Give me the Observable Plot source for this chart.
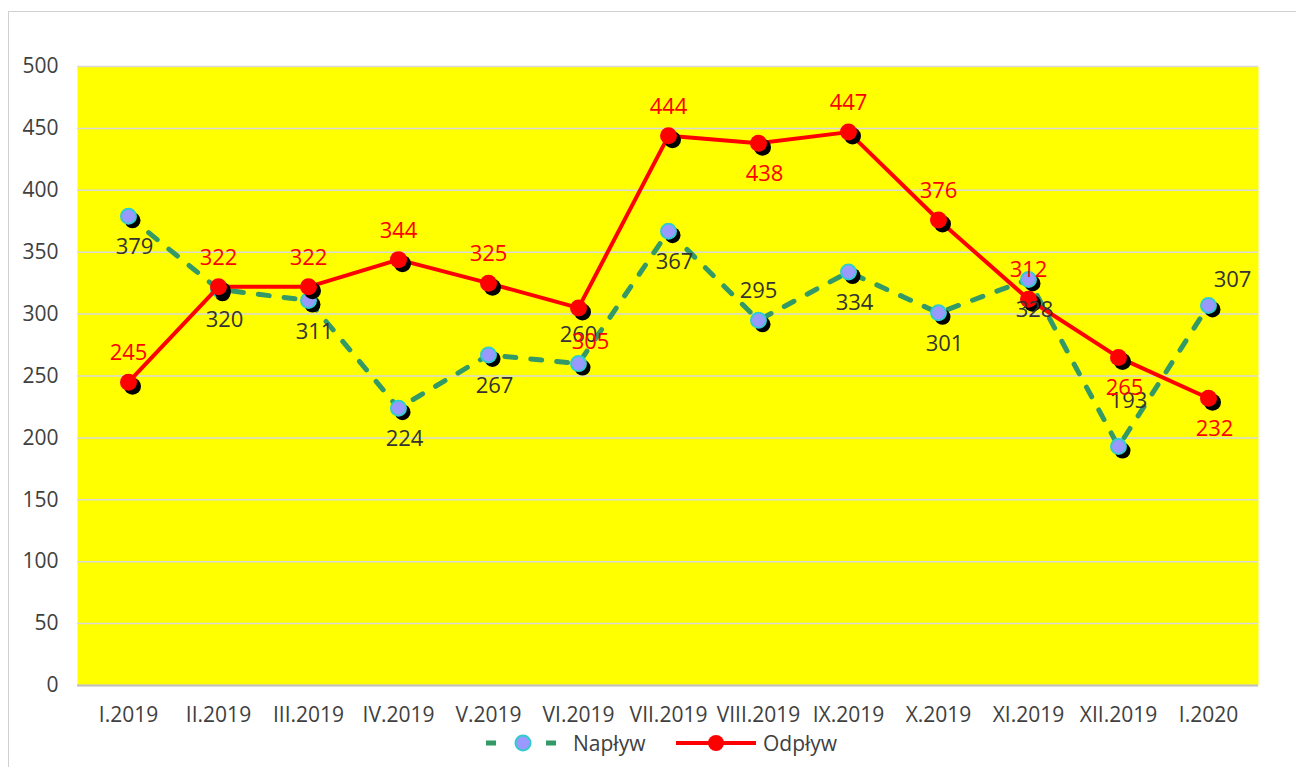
<!DOCTYPE html>
<html>
<head>
<meta charset="utf-8">
<script src="https://cdn.jsdelivr.net/npm/d3@7"></script>
<script src="https://cdn.jsdelivr.net/npm/@observablehq/plot@0.6"></script>
<style>
  html, body { margin: 0; padding: 0; background: #fff; }
  body { width: 1296px; height: 767px; position: relative; overflow: hidden; font-family: "Open Sans", sans-serif; }
  #frame { position: absolute; left: 8px; top: 11px; width: 1300px; height: 800px; border: 1px solid #d0d0d0; box-sizing: border-box; }
  #chart { position: absolute; left: 0; top: 0; }
  #legend { position: absolute; top: 730px; left: 0; width: 1296px; height: 26px; font-size: 21px; color: #404040; }
  #legend .item { position: absolute; top: 0; display: flex; align-items: center; height: 26px; }
  #legend svg { display: block; }
</style>
</head>
<body>
<div id="frame"></div>
<div id="chart"></div>
<div id="legend">
  <div class="item" style="left:484px">
    <svg width="78" height="26"><line x1="2" y1="13" x2="76" y2="13" stroke="#339966" stroke-width="5" stroke-dasharray="10,20"/><circle cx="39" cy="13" r="7.5" fill="#9999ff" stroke="#33cccc" stroke-width="2"/></svg>
    <span style="margin-left:11px">Napływ</span>
  </div>
  <div class="item" style="left:674px">
    <svg width="84" height="26"><line x1="2" y1="13" x2="82" y2="13" stroke="#ff0000" stroke-width="4"/><circle cx="42" cy="13" r="8" fill="#ff0000"/></svg>
    <span style="margin-left:5px">Odpływ</span>
  </div>
</div>
<script>
const months = ["I.2019","II.2019","III.2019","IV.2019","V.2019","VI.2019","VII.2019","VIII.2019","IX.2019","X.2019","XI.2019","XII.2019","I.2020"];
const naplyw = [379, 320, 311, 224, 267, 260, 367, 295, 334, 301, 328, 193, 307];
const odplyw = [245, 322, 322, 344, 325, 305, 444, 438, 447, 376, 312, 265, 232];
const naplywLabelPos = ["below","below","below","below","below","above","below","above","below","below","below","above-far","above-right"];
const odplywLabelPos = ["above","above","above","above","above","below-right","above","below","above","above","above","below","below"];
const yTicks = [0, 50, 100, 150, 200, 250, 300, 350, 400, 450, 500];

const offsets = {
  "above": [0, -29],
  "below": [6, 31],
  "above-far": [10, -46],
  "above-right": [24, -25],
  "below-right": [12, 34]
};

const FONT = "'Open Sans', Lato, sans-serif";
const nap = months.map((m, i) => ({m, v: naplyw[i], pos: naplywLabelPos[i]}));
const odp = months.map((m, i) => ({m, v: odplyw[i], pos: odplywLabelPos[i]}));

function labels(data, fill) {
  return Object.keys(offsets).map(k => Plot.text(data.filter(d => d.pos === k), {
    x: "m", y: "v", text: d => String(d.v), dx: offsets[k][0], dy: offsets[k][1],
    fill, fontSize: 22, fontFamily: FONT
  }));
}

const chart = Plot.plot({
  width: 1296,
  height: 731,
  marginLeft: 77,
  marginRight: 38,
  marginTop: 66,
  marginBottom: 46,
  style: { background: "transparent", fontFamily: FONT, fontSize: "21px", color: "#404040", overflow: "visible" },
  x: { type: "point", domain: months, padding: 0.5, label: null },
  y: { domain: [0, 500], ticks: yTicks, label: null },
  marks: [
    Plot.frame({ fill: "#ffff00", stroke: null }),
    Plot.gridY(yTicks, { stroke: "#d9d9d9", strokeOpacity: 1, strokeWidth: 1.5 }),
    Plot.ruleY([0], { stroke: "#c0c0c0", strokeWidth: 2 }),
    Plot.axisY({ ticks: yTicks, tickSize: 0, tickPadding: 19, fontSize: 21, fill: "#404040", label: null }),
    Plot.axisX({ tickSize: 0, tickPadding: 22, fontSize: 21, fill: "#404040", label: null }),
    // Napływ
    Plot.line(nap, { x: "m", y: "v", stroke: "#339966", strokeWidth: 5, strokeDasharray: "11,15" }),
    Plot.dot(nap, { x: "m", y: "v", r: 8, fill: "black", dx: 4, dy: 4 }),
    Plot.dot(nap, { x: "m", y: "v", r: 7.5, fill: "#9999ff", stroke: "#33cccc", strokeWidth: 2 }),
    // Odpływ
    Plot.line(odp, { x: "m", y: "v", stroke: "#ff0000", strokeWidth: 4 }),
    Plot.dot(odp, { x: "m", y: "v", r: 8.5, fill: "black", dx: 4, dy: 4 }),
    Plot.dot(odp, { x: "m", y: "v", r: 8.5, fill: "#ff0000" }),
    ...labels(nap, "#333333"),
    ...labels(odp, "#ff0000")
  ]
});
document.getElementById("chart").appendChild(chart);
</script>
</body>
</html>
